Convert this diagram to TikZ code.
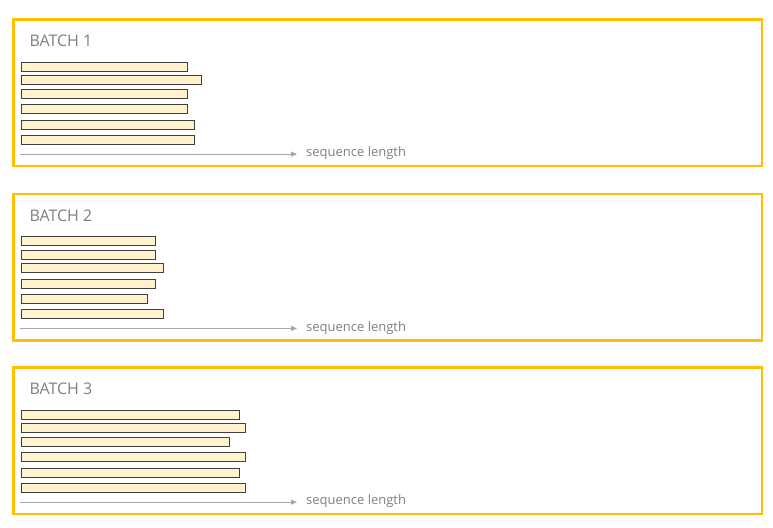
\documentclass[tikz,border=0pt]{standalone}
\usepackage{fontspec}
\setmainfont{Open Sans}
\usetikzlibrary{arrows.meta}
\definecolor{boxyellow}{HTML}{FFC000}
\definecolor{barfill}{HTML}{FFF2CC}
\definecolor{barline}{HTML}{404040}
\definecolor{txtgray}{HTML}{7F7F7F}
\definecolor{axisgray}{HTML}{A6A6A6}
\begin{document}
\begin{tikzpicture}[x=1pt,y=-1pt,
    batchbox/.style={draw=boxyellow,line width=2.5pt,rectangle,minimum width=748.7pt,minimum height=146.5pt,inner sep=0pt,anchor=north west},
    batchtitle/.style={text=txtgray,font=\fontsize{16}{18}\selectfont,anchor=base west,inner sep=0pt},
    seqbar/.style={draw=barline,fill=barfill,line width=0.9pt,rectangle,minimum height=9pt,inner sep=0pt,anchor=west},
    axis/.style={draw=axisgray,line width=0.75pt,-{Triangle[length=6pt,width=5pt]}},
    seqlabel/.style={text=txtgray,font=\fontsize{13}{15}\selectfont,anchor=base west,inner sep=0pt}]
    \useasboundingbox (0,0) rectangle (773,527);
    \foreach \b/\y/\lens in {1/18.3/{186.7,201,186.7,186.7,193.7,193.7},
                             2/192.6/{155,155,163.3,155,147.3,163.3},
                             3/366.3/{238.7,244.7,229.3,244.7,238.7,244.7}}{
        %% Batch frame
        \node[batchbox] (box\b) at (12,\y) {};
        \node[batchtitle] (title\b) at (29.3,\y+28.4) {BATCH \b};
        %% Sequences
        \foreach \r [count=\i] in \lens {
            \pgfmathsetmacro\off{{48.2,62,75.8,90.9,106.8,121.2}[\i-1]}
            \node[seqbar,minimum width={(\r-20.7)*1pt}] (bar\b-\i) at (20.7,\y+\off) {};
        }
        %% Length axis
        \coordinate (axs\b) at (20,\y+135.8);
        \coordinate (axe\b) at (297,\y+135.8);
        \draw[axis] (axs\b) -- (axe\b);
        \node[seqlabel] (len\b) at (306,\y+138.4) {sequence length};
    }
\end{tikzpicture}
\end{document}
